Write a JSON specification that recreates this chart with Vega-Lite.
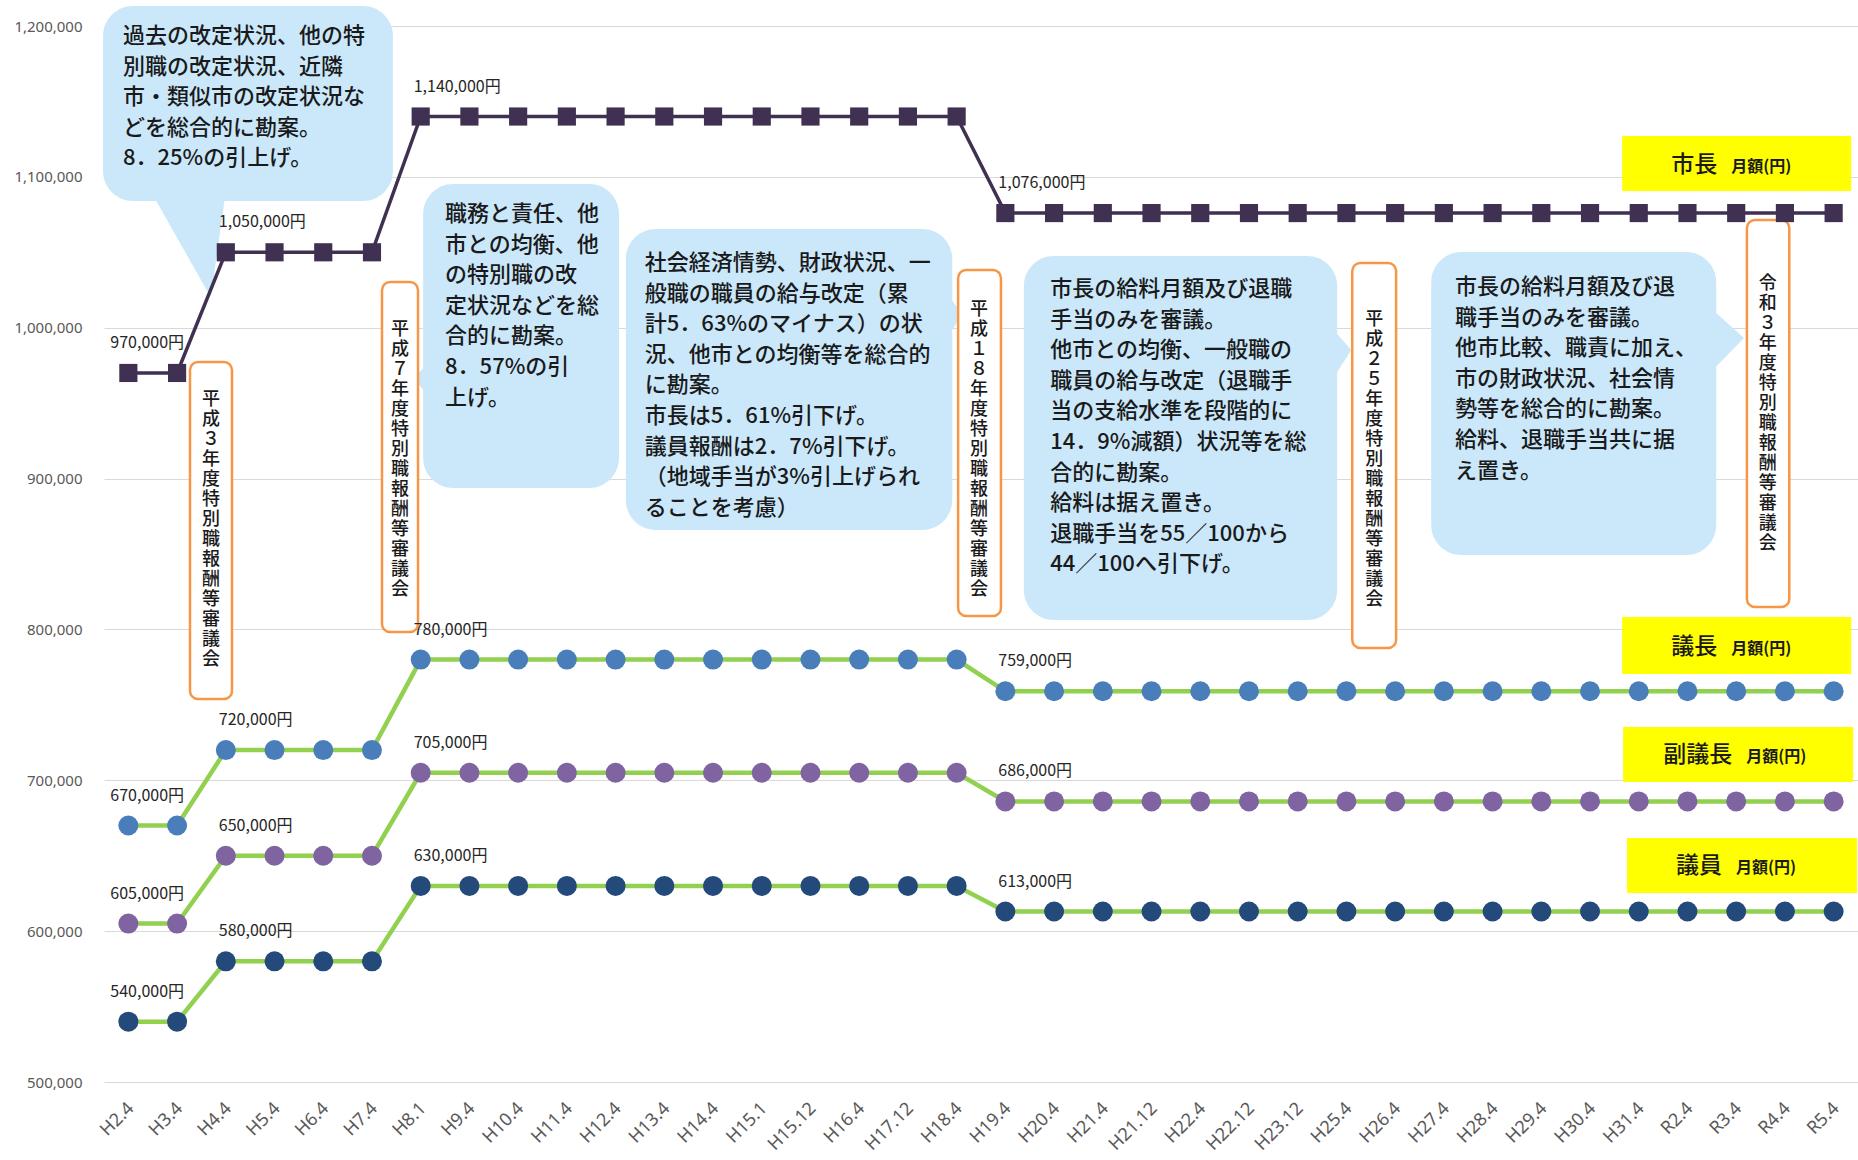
{
  "$schema": "https://vega.github.io/schema/vega-lite/v6.json",
  "width": 1754,
  "height": 1056,
  "autosize": {"type": "none"},
  "padding": {"left": 104, "top": 26, "right": 0, "bottom": 78},
  "background": "white",
  "config": {
    "view": {"stroke": null},
    "font": "Noto Sans CJK JP"
  },
  "datasets": {
    "series": [
      {"period":"H2.4","role":"市長","value":970000},{"period":"H3.4","role":"市長","value":970000},
      {"period":"H4.4","role":"市長","value":1050000},{"period":"H5.4","role":"市長","value":1050000},{"period":"H6.4","role":"市長","value":1050000},{"period":"H7.4","role":"市長","value":1050000},
      {"period":"H8.1","role":"市長","value":1140000},{"period":"H9.4","role":"市長","value":1140000},{"period":"H10.4","role":"市長","value":1140000},{"period":"H11.4","role":"市長","value":1140000},{"period":"H12.4","role":"市長","value":1140000},{"period":"H13.4","role":"市長","value":1140000},{"period":"H14.4","role":"市長","value":1140000},{"period":"H15.1","role":"市長","value":1140000},{"period":"H15.12","role":"市長","value":1140000},{"period":"H16.4","role":"市長","value":1140000},{"period":"H17.12","role":"市長","value":1140000},{"period":"H18.4","role":"市長","value":1140000},
      {"period":"H19.4","role":"市長","value":1076000},{"period":"H20.4","role":"市長","value":1076000},{"period":"H21.4","role":"市長","value":1076000},{"period":"H21.12","role":"市長","value":1076000},{"period":"H22.4","role":"市長","value":1076000},{"period":"H22.12","role":"市長","value":1076000},{"period":"H23.12","role":"市長","value":1076000},{"period":"H25.4","role":"市長","value":1076000},{"period":"H26.4","role":"市長","value":1076000},{"period":"H27.4","role":"市長","value":1076000},{"period":"H28.4","role":"市長","value":1076000},{"period":"H29.4","role":"市長","value":1076000},{"period":"H30.4","role":"市長","value":1076000},{"period":"H31.4","role":"市長","value":1076000},{"period":"R2.4","role":"市長","value":1076000},{"period":"R3.4","role":"市長","value":1076000},{"period":"R4.4","role":"市長","value":1076000},{"period":"R5.4","role":"市長","value":1076000},

      {"period":"H2.4","role":"議長","value":670000},{"period":"H3.4","role":"議長","value":670000},
      {"period":"H4.4","role":"議長","value":720000},{"period":"H5.4","role":"議長","value":720000},{"period":"H6.4","role":"議長","value":720000},{"period":"H7.4","role":"議長","value":720000},
      {"period":"H8.1","role":"議長","value":780000},{"period":"H9.4","role":"議長","value":780000},{"period":"H10.4","role":"議長","value":780000},{"period":"H11.4","role":"議長","value":780000},{"period":"H12.4","role":"議長","value":780000},{"period":"H13.4","role":"議長","value":780000},{"period":"H14.4","role":"議長","value":780000},{"period":"H15.1","role":"議長","value":780000},{"period":"H15.12","role":"議長","value":780000},{"period":"H16.4","role":"議長","value":780000},{"period":"H17.12","role":"議長","value":780000},{"period":"H18.4","role":"議長","value":780000},
      {"period":"H19.4","role":"議長","value":759000},{"period":"H20.4","role":"議長","value":759000},{"period":"H21.4","role":"議長","value":759000},{"period":"H21.12","role":"議長","value":759000},{"period":"H22.4","role":"議長","value":759000},{"period":"H22.12","role":"議長","value":759000},{"period":"H23.12","role":"議長","value":759000},{"period":"H25.4","role":"議長","value":759000},{"period":"H26.4","role":"議長","value":759000},{"period":"H27.4","role":"議長","value":759000},{"period":"H28.4","role":"議長","value":759000},{"period":"H29.4","role":"議長","value":759000},{"period":"H30.4","role":"議長","value":759000},{"period":"H31.4","role":"議長","value":759000},{"period":"R2.4","role":"議長","value":759000},{"period":"R3.4","role":"議長","value":759000},{"period":"R4.4","role":"議長","value":759000},{"period":"R5.4","role":"議長","value":759000},

      {"period":"H2.4","role":"副議長","value":605000},{"period":"H3.4","role":"副議長","value":605000},
      {"period":"H4.4","role":"副議長","value":650000},{"period":"H5.4","role":"副議長","value":650000},{"period":"H6.4","role":"副議長","value":650000},{"period":"H7.4","role":"副議長","value":650000},
      {"period":"H8.1","role":"副議長","value":705000},{"period":"H9.4","role":"副議長","value":705000},{"period":"H10.4","role":"副議長","value":705000},{"period":"H11.4","role":"副議長","value":705000},{"period":"H12.4","role":"副議長","value":705000},{"period":"H13.4","role":"副議長","value":705000},{"period":"H14.4","role":"副議長","value":705000},{"period":"H15.1","role":"副議長","value":705000},{"period":"H15.12","role":"副議長","value":705000},{"period":"H16.4","role":"副議長","value":705000},{"period":"H17.12","role":"副議長","value":705000},{"period":"H18.4","role":"副議長","value":705000},
      {"period":"H19.4","role":"副議長","value":686000},{"period":"H20.4","role":"副議長","value":686000},{"period":"H21.4","role":"副議長","value":686000},{"period":"H21.12","role":"副議長","value":686000},{"period":"H22.4","role":"副議長","value":686000},{"period":"H22.12","role":"副議長","value":686000},{"period":"H23.12","role":"副議長","value":686000},{"period":"H25.4","role":"副議長","value":686000},{"period":"H26.4","role":"副議長","value":686000},{"period":"H27.4","role":"副議長","value":686000},{"period":"H28.4","role":"副議長","value":686000},{"period":"H29.4","role":"副議長","value":686000},{"period":"H30.4","role":"副議長","value":686000},{"period":"H31.4","role":"副議長","value":686000},{"period":"R2.4","role":"副議長","value":686000},{"period":"R3.4","role":"副議長","value":686000},{"period":"R4.4","role":"副議長","value":686000},{"period":"R5.4","role":"副議長","value":686000},

      {"period":"H2.4","role":"議員","value":540000},{"period":"H3.4","role":"議員","value":540000},
      {"period":"H4.4","role":"議員","value":580000},{"period":"H5.4","role":"議員","value":580000},{"period":"H6.4","role":"議員","value":580000},{"period":"H7.4","role":"議員","value":580000},
      {"period":"H8.1","role":"議員","value":630000},{"period":"H9.4","role":"議員","value":630000},{"period":"H10.4","role":"議員","value":630000},{"period":"H11.4","role":"議員","value":630000},{"period":"H12.4","role":"議員","value":630000},{"period":"H13.4","role":"議員","value":630000},{"period":"H14.4","role":"議員","value":630000},{"period":"H15.1","role":"議員","value":630000},{"period":"H15.12","role":"議員","value":630000},{"period":"H16.4","role":"議員","value":630000},{"period":"H17.12","role":"議員","value":630000},{"period":"H18.4","role":"議員","value":630000},
      {"period":"H19.4","role":"議員","value":613000},{"period":"H20.4","role":"議員","value":613000},{"period":"H21.4","role":"議員","value":613000},{"period":"H21.12","role":"議員","value":613000},{"period":"H22.4","role":"議員","value":613000},{"period":"H22.12","role":"議員","value":613000},{"period":"H23.12","role":"議員","value":613000},{"period":"H25.4","role":"議員","value":613000},{"period":"H26.4","role":"議員","value":613000},{"period":"H27.4","role":"議員","value":613000},{"period":"H28.4","role":"議員","value":613000},{"period":"H29.4","role":"議員","value":613000},{"period":"H30.4","role":"議員","value":613000},{"period":"H31.4","role":"議員","value":613000},{"period":"R2.4","role":"議員","value":613000},{"period":"R3.4","role":"議員","value":613000},{"period":"R4.4","role":"議員","value":613000},{"period":"R5.4","role":"議員","value":613000}
    ],
    "labels": [
      {"period":"H2.4","value":970000,"label":"970,000円"},
      {"period":"H4.4","value":1050000,"label":"1,050,000円"},
      {"period":"H8.1","value":1140000,"label":"1,140,000円"},
      {"period":"H19.4","value":1076000,"label":"1,076,000円"},
      {"period":"H2.4","value":670000,"label":"670,000円"},
      {"period":"H4.4","value":720000,"label":"720,000円"},
      {"period":"H8.1","value":780000,"label":"780,000円"},
      {"period":"H19.4","value":759000,"label":"759,000円"},
      {"period":"H2.4","value":605000,"label":"605,000円"},
      {"period":"H4.4","value":650000,"label":"650,000円"},
      {"period":"H8.1","value":705000,"label":"705,000円"},
      {"period":"H19.4","value":686000,"label":"686,000円"},
      {"period":"H2.4","value":540000,"label":"540,000円"},
      {"period":"H4.4","value":580000,"label":"580,000円"},
      {"period":"H8.1","value":630000,"label":"630,000円"},
      {"period":"H19.4","value":613000,"label":"613,000円"}
    ],
    "bubbles": [
      {"id":"A","ax":-0.52,"ax2":5.43,"ay":1213280,"ay2":1084015},
      {"id":"B","ax":6.05,"ax2":10.07,"ay":1095284,"ay2":893763},
      {"id":"C","ax":10.21,"ax2":16.91,"ay":1065454,"ay2":865921},
      {"id":"D","ax":18.38,"ax2":24.81,"ay":1047555,"ay2":806260},
      {"id":"E","ax":26.74,"ax2":32.59,"ay":1050207,"ay2":849348}
    ],
    "tailH": [
      {"id":"A","ty":1091307,"tx":0.444,"tx2":2.004},
      {"id":"A","ty":1021039,"tx":1.676,"tx2":1.696}
    ],
    "tailV": [
      {"id":"B","tx":5.842,"ty":966682,"ty2":966682},
      {"id":"B","tx":6.232,"ty":978614,"ty2":952098},
      {"id":"C","tx":16.66,"ty":1028994,"ty2":985243},
      {"id":"C","tx":17.11,"ty":1009107,"ty2":1009107},
      {"id":"D","tx":24.56,"ty":1005130,"ty2":958064},
      {"id":"D","tx":25.10,"ty":985243,"ty2":985243},
      {"id":"E","tx":32.34,"ty":1017062,"ty2":966019},
      {"id":"E","tx":33.16,"ty":993198,"ty2":993198}
    ],
    "bubbleText": [
      {"id":"A","tx":-0.11,"ty":1200022,"lines":["過去の改定状況、他の特","別職の改定状況、近隣","市・類似市の改定状況な","どを総合的に勘案。","8．25%の引上げ。"]},
      {"id":"B","tx":6.50,"ty":1082026,"lines":["職務と責任、他","市との均衡、他","の特別職の改","定状況などを総","合的に勘案。","8．57%の引","上げ。"]},
      {"id":"C","tx":10.60,"ty":1049544,"lines":["社会経済情勢、財政状況、一","般職の職員の給与改定（累","計5．63%のマイナス）の状","況、他市との均衡等を総合的","に勘案。","市長は5．61%引下げ。","議員報酬は2．7%引下げ。","（地域手当が3%引上げられ","ることを考慮）"]},
      {"id":"D","tx":18.92,"ty":1032309,"lines":["市長の給料月額及び退職","手当のみを審議。","他市との均衡、一般職の","職員の給与改定（退職手","当の支給水準を段階的に","14．9%減額）状況等を総","合的に勘案。","給料は据え置き。","退職手当を55／100から","44／100へ引下げ。"]},
      {"id":"E","tx":27.23,"ty":1033635,"lines":["市長の給料月額及び退","職手当のみを審議。","他市比較、職責に加え、","市の財政状況、社会情","勢等を総合的に勘案。","給料、退職手当共に据","え置き。"]}
    ],
    "vboxes": [
      {"id":"V1","ax":1.265,"ax2":2.127,"ay":977288,"ay2":753891},
      {"id":"V2","ax":5.206,"ax2":5.945,"ay":1030320,"ay2":798305},
      {"id":"V3","ax":17.03,"ax2":17.91,"ay":1038275,"ay2":808911},
      {"id":"V4","ax":25.12,"ax2":26.02,"ay":1042915,"ay2":787699},
      {"id":"V5","ax":33.22,"ax2":34.09,"ay":1071420,"ay2":814878}
    ],
    "vtext": [
      {"id":"V1","tx":1.696,"ty":958064,"chars":["平","成","３","年","度","特","別","職","報","酬","等","審","議","会"]},
      {"id":"V2","tx":5.575,"ty":1004467,"chars":["平","成","７","年","度","特","別","職","報","酬","等","審","議","会"]},
      {"id":"V3","tx":17.46,"ty":1017725,"chars":["平","成","１","８","年","度","特","別","職","報","酬","等","審","議","会"]},
      {"id":"V4","tx":25.57,"ty":1011096,"chars":["平","成","２","５","年","度","特","別","職","報","酬","等","審","議","会"]},
      {"id":"V5","tx":33.65,"ty":1034960,"chars":["令","和","３","年","度","特","別","職","報","酬","等","審","議","会"]}
    ],
    "ybox": [
      {"name":"市長","ax":30.66,"ax2":35.36,"ay":1127103,"ay2":1090644,"tx":32.61,"ty":1107879,"unit":"月額(円)"},
      {"name":"議長","ax":30.66,"ax2":35.36,"ay":808249,"ay2":770463,"tx":32.61,"ty":788362,"unit":"月額(円)"},
      {"name":"副議長","ax":30.68,"ax2":35.40,"ay":735330,"ay2":698870,"tx":32.92,"ty":716768,"unit":"月額(円)"},
      {"name":"議員","ax":30.76,"ax2":35.48,"ay":661748,"ay2":625288,"tx":32.71,"ty":643186,"unit":"月額(円)"}
    ]
  },
  "layer": [
    {
      "layer": [
        {
          "data": {"name": "bubbles"},
          "mark": {"type": "rect", "fill": "#cbe8fa", "cornerRadius": 30},
          "encoding": {
            "x": {"field": "ax", "type": "quantitative", "scale": {"domain": [-0.5, 35.5], "nice": false, "zero": false}, "axis": null},
            "x2": {"field": "ax2"},
            "y": {"field": "ay", "type": "quantitative", "axis": null, "scale": {"domain": [500000, 1200000], "nice": false, "zero": false}},
            "y2": {"field": "ay2"}
          }
        },
        {
          "data": {"name": "tailH"},
          "mark": {"type": "area", "orient": "horizontal", "fill": "#cbe8fa", "interpolate": "linear"},
          "encoding": {
            "y": {"field": "ty", "type": "quantitative", "axis": null, "scale": {"domain": [500000, 1200000], "nice": false, "zero": false}},
            "x": {"field": "tx", "type": "quantitative", "scale": {"domain": [-0.5, 35.5], "nice": false, "zero": false}, "axis": null},
            "x2": {"field": "tx2"},
            "detail": {"field": "id"}
          }
        },
        {
          "data": {"name": "tailV"},
          "mark": {"type": "area", "orient": "vertical", "fill": "#cbe8fa", "interpolate": "linear"},
          "encoding": {
            "x": {"field": "tx", "type": "quantitative", "scale": {"domain": [-0.5, 35.5], "nice": false, "zero": false}, "axis": null},
            "y": {"field": "ty", "type": "quantitative", "axis": null, "scale": {"domain": [500000, 1200000], "nice": false, "zero": false}},
            "y2": {"field": "ty2"},
            "detail": {"field": "id"}
          }
        },
        {
          "data": {"name": "bubbleText"},
          "mark": {"type": "text", "align": "left", "baseline": "top", "fontSize": 22, "fontWeight": 500, "lineHeight": 30.6, "color": "#1a1a1a", "font": "Noto Sans CJK JP"},
          "encoding": {
            "x": {"field": "tx", "type": "quantitative", "scale": {"domain": [-0.5, 35.5], "nice": false, "zero": false}, "axis": null},
            "y": {"field": "ty", "type": "quantitative", "axis": null, "scale": {"domain": [500000, 1200000], "nice": false, "zero": false}},
            "text": {"field": "lines"}
          }
        },
        {
          "data": {"name": "vboxes"},
          "mark": {"type": "rect", "fill": "white", "stroke": "#f79646", "strokeWidth": 2.5, "cornerRadius": 8},
          "encoding": {
            "x": {"field": "ax", "type": "quantitative", "scale": {"domain": [-0.5, 35.5], "nice": false, "zero": false}, "axis": null},
            "x2": {"field": "ax2"},
            "y": {"field": "ay", "type": "quantitative", "axis": null, "scale": {"domain": [500000, 1200000], "nice": false, "zero": false}},
            "y2": {"field": "ay2"}
          }
        },
        {
          "data": {"name": "vtext"},
          "mark": {"type": "text", "align": "center", "baseline": "top", "fontSize": 18, "fontWeight": 500, "lineHeight": 20, "color": "#1a1a1a", "font": "Noto Sans CJK JP"},
          "encoding": {
            "x": {"field": "tx", "type": "quantitative", "scale": {"domain": [-0.5, 35.5], "nice": false, "zero": false}, "axis": null},
            "y": {"field": "ty", "type": "quantitative", "axis": null, "scale": {"domain": [500000, 1200000], "nice": false, "zero": false}},
            "text": {"field": "chars"}
          }
        },
        {
          "data": {"name": "ybox"},
          "mark": {"type": "rect", "fill": "#ffff00"},
          "encoding": {
            "x": {"field": "ax", "type": "quantitative", "scale": {"domain": [-0.5, 35.5], "nice": false, "zero": false}, "axis": null},
            "x2": {"field": "ax2"},
            "y": {"field": "ay", "type": "quantitative", "axis": null, "scale": {"domain": [500000, 1200000], "nice": false, "zero": false}},
            "y2": {"field": "ay2"}
          }
        },
        {
          "data": {"name": "ybox"},
          "mark": {"type": "text", "align": "right", "baseline": "middle", "fontSize": 23, "fontWeight": 500, "color": "#1a1a1a", "font": "Noto Sans CJK JP"},
          "encoding": {
            "x": {"field": "tx", "type": "quantitative", "scale": {"domain": [-0.5, 35.5], "nice": false, "zero": false}, "axis": null},
            "y": {"field": "ty", "type": "quantitative", "axis": null, "scale": {"domain": [500000, 1200000], "nice": false, "zero": false}},
            "text": {"field": "name"}
          }
        },
        {
          "data": {"name": "ybox"},
          "mark": {"type": "text", "align": "left", "baseline": "middle", "dx": 14, "dy": 2, "fontSize": 16, "fontWeight": "bold", "color": "#1a1a1a", "font": "Noto Sans CJK JP"},
          "encoding": {
            "x": {"field": "tx", "type": "quantitative", "scale": {"domain": [-0.5, 35.5], "nice": false, "zero": false}, "axis": null},
            "y": {"field": "ty", "type": "quantitative", "axis": null, "scale": {"domain": [500000, 1200000], "nice": false, "zero": false}},
            "text": {"field": "unit"}
          }
        }
      ]
    },
    {
      "encoding": {
        "x": {
          "field": "period", "type": "ordinal", "title": null,
          "scale": {"type": "point", "padding": 0.5, "domain": ["H2.4","H3.4","H4.4","H5.4","H6.4","H7.4","H8.1","H9.4","H10.4","H11.4","H12.4","H13.4","H14.4","H15.1","H15.12","H16.4","H17.12","H18.4","H19.4","H20.4","H21.4","H21.12","H22.4","H22.12","H23.12","H25.4","H26.4","H27.4","H28.4","H29.4","H30.4","H31.4","R2.4","R3.4","R4.4","R5.4"]},
          "axis": {"labelAngle": -45, "labelFontSize": 18, "labelColor": "#595959", "labelFont": "Noto Sans", "ticks": false, "domain": false, "grid": false, "labelPadding": 17, "labelOffset": -4}
        },
        "y": {
          "field": "value", "type": "quantitative", "title": null,
          "scale": {"domain": [500000, 1200000], "nice": false, "zero": false},
          "axis": {"orient": "left", "values": [500000,600000,700000,800000,900000,1000000,1100000,1200000], "format": ",.0f", "labelFontSize": 15, "labelColor": "#595959", "labelFont": "Noto Sans", "ticks": false, "domain": false, "grid": true, "gridColor": "#d9d9d9", "gridWidth": 1.2, "labelPadding": 22, "title": null}
        }
      },
      "layer": [
        {
          "data": {"name": "series"},
          "transform": [{"filter": "datum.role !== '市長'"}],
          "mark": {"type": "line", "color": "#92d050", "strokeWidth": 4.5},
          "encoding": {"detail": {"field": "role"}}
        },
        {
          "data": {"name": "series"},
          "transform": [{"filter": "datum.role === '市長'"}],
          "mark": {"type": "line", "color": "#403152", "strokeWidth": 3.5},
          "encoding": {}
        },
        {
          "data": {"name": "series"},
          "transform": [{"filter": "datum.role !== '市長'"}],
          "mark": {"type": "circle", "size": 400, "opacity": 1},
          "encoding": {
            "color": {"field": "role", "type": "nominal", "legend": null, "scale": {"domain": ["議長", "副議長", "議員"], "range": ["#4a7ebb", "#8064a2", "#234a7a"]}}
          }
        },
        {
          "data": {"name": "series"},
          "transform": [{"filter": "datum.role === '市長'"}],
          "mark": {"type": "square", "size": 330, "opacity": 1, "color": "#403152"},
          "encoding": {}
        },
        {
          "data": {"name": "labels"},
          "transform": [{"filter": "datum.period === 'H2.4'"}],
          "mark": {"type": "text", "align": "left", "baseline": "middle", "dx": -18, "dy": -30, "fontSize": 16, "color": "#262626", "font": "Noto Sans CJK JP"},
          "encoding": {"text": {"field": "label"}}
        },
        {
          "data": {"name": "labels"},
          "transform": [{"filter": "datum.period !== 'H2.4'"}],
          "mark": {"type": "text", "align": "left", "baseline": "middle", "dx": -7, "dy": -30, "fontSize": 16, "color": "#262626", "font": "Noto Sans CJK JP"},
          "encoding": {"text": {"field": "label"}}
        }
      ]
    }
  ],
  "resolve": {"scale": {"x": "independent"}, "axis": {"y": "independent"}}
}
